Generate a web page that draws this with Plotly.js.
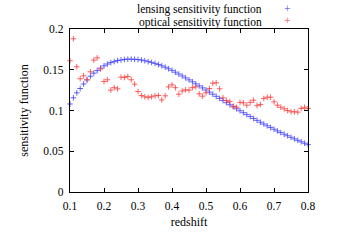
<!DOCTYPE html>
<html>
<head>
<meta charset="utf-8">
<script src="https://cdn.plot.ly/plotly-3.0.1.min.js"></script>
<style>html,body{margin:0;padding:0;background:#fff;}#chart{width:350px;height:245px;}</style>
</head>
<body>
<div id="chart"></div>
<script>
const redshift = [0.10,0.11,0.12,0.13,0.14,0.15,0.16,0.17,0.18,0.19,0.20,0.21,0.22,0.23,0.24,0.25,0.26,0.27,0.28,0.29,0.30,0.31,0.32,0.33,0.34,0.35,0.36,0.37,0.38,0.39,0.40,0.41,0.42,0.43,0.44,0.45,0.46,0.47,0.48,0.49,0.50,0.51,0.52,0.53,0.54,0.55,0.56,0.57,0.58,0.59,0.60,0.61,0.62,0.63,0.64,0.65,0.66,0.67,0.68,0.69,0.70,0.71,0.72,0.73,0.74,0.75,0.76,0.77,0.78,0.79,0.80];
const lensing = [0.108,0.1156,0.1217,0.127,0.1325,0.1375,0.142,0.1458,0.149,0.152,0.1548,0.157,0.1588,0.160,0.1613,0.162,0.1626,0.163,0.163,0.1628,0.1625,0.1619,0.161,0.160,0.159,0.1578,0.1564,0.1548,0.1531,0.1512,0.1492,0.147,0.1447,0.1424,0.140,0.1376,0.1352,0.1327,0.1302,0.1277,0.1252,0.1226,0.1200,0.1174,0.1148,0.1122,0.1096,0.1071,0.1046,0.1021,0.0997,0.0973,0.0949,0.0925,0.0902,0.0879,0.0856,0.0834,0.0812,0.0791,0.0770,0.0749,0.0729,0.0709,0.0690,0.0671,0.0652,0.0634,0.0616,0.0598,0.0581];
const optical = [0.161,0.188,0.1536,0.139,0.1426,0.1377,0.1475,0.1618,0.1646,0.151,0.1356,0.1377,0.125,0.128,0.1266,0.1409,0.1405,0.1417,0.1377,0.1323,0.1233,0.1184,0.1168,0.116,0.1168,0.118,0.1184,0.113,0.118,0.129,0.1315,0.128,0.120,0.124,0.1254,0.125,0.128,0.129,0.1205,0.1176,0.1217,0.127,0.1335,0.134,0.1266,0.1156,0.1123,0.111,0.1053,0.104,0.110,0.1094,0.1065,0.110,0.1126,0.106,0.1074,0.1147,0.1163,0.1163,0.1107,0.1065,0.104,0.102,0.100,0.0984,0.0984,0.098,0.1025,0.104,0.1025];
const seriesNames = ["lensing sensitivity function","optical sensitivity function"];
const xTicks = [0.1,0.2,0.3,0.4,0.5,0.6,0.7,0.8];
const yTicks = [0,0.05,0.1,0.15,0.2];
const yTickText = ["0","0.05","0.1","0.15","0.2"];

const FONT = "Liberation Serif, Times New Roman, serif";
const blue = "rgba(60,60,255,0.8)", red = "rgba(255,60,60,0.8)";

const traces = [
  {x: redshift, y: lensing, type: "scatter", mode: "markers", name: seriesNames[0],
   marker: {symbol: "cross-thin", size: 4, color: blue, line: {color: blue, width: 1}}, cliponaxis: false},
  {x: redshift, y: optical, type: "scatter", mode: "markers", name: seriesNames[1],
   marker: {symbol: "cross-thin", size: 4, color: red, line: {color: red, width: 1}}, cliponaxis: false}
];

const axisCommon = {showgrid: false, zeroline: false, ticks: "inside", ticklen: 4, tickcolor: "#000",
  showline: true, linecolor: "#000", linewidth: 1.3, mirror: "ticks",
  tickfont: {family: FONT, size: 11.5, color: "#000"}};

const layout = {
  width: 350, height: 245,
  margin: {l: 70, r: 42, t: 29, b: 53},
  paper_bgcolor: "#fff", plot_bgcolor: "#fff",
  showlegend: false,
  font: {family: FONT, size: 12, color: "#000"},
  xaxis: Object.assign({}, axisCommon, {range: [0.1, 0.8], tickvals: xTicks, ticktext: xTicks.map(v => v.toFixed(1)),
    ticklabelstandoff: 3,
    title: {text: "redshift", font: {family: FONT, size: 12}, standoff: 6}}),
  yaxis: Object.assign({}, axisCommon, {range: [0, 0.2], tickvals: yTicks, ticktext: yTickText,
    ticklabelstandoff: 3,
    title: {text: "sensitivity function", font: {family: FONT, size: 12}, standoff: 12}}),
  annotations: [
    {xref: "paper", yref: "paper", x: (263-70)/238, y: (192.5-9.5)/163.5, xanchor: "right", yanchor: "middle",
     text: seriesNames[0], showarrow: false, borderpad: 0, font: {family: FONT, size: 11.5, color: "#000"}},
    {xref: "paper", yref: "paper", x: (263-70)/238, y: (192.5-22.5)/163.5, xanchor: "right", yanchor: "middle",
     text: seriesNames[1], showarrow: false, borderpad: 0, font: {family: FONT, size: 11.5, color: "#000"}},
    {xref: "paper", yref: "paper", x: (287-70)/238, y: (192.5-8.5)/163.5, xanchor: "center", yanchor: "middle",
     text: "+", showarrow: false, borderpad: 0, font: {family: "DejaVu Sans", size: 8, color: blue}},
    {xref: "paper", yref: "paper", x: (287-70)/238, y: (192.5-20.5)/163.5, xanchor: "center", yanchor: "middle",
     text: "+", showarrow: false, borderpad: 0, font: {family: "DejaVu Sans", size: 8, color: red}}
  ]
};

Plotly.newPlot("chart", traces, layout, {staticPlot: true, displayModeBar: false});
</script>
</body>
</html>
